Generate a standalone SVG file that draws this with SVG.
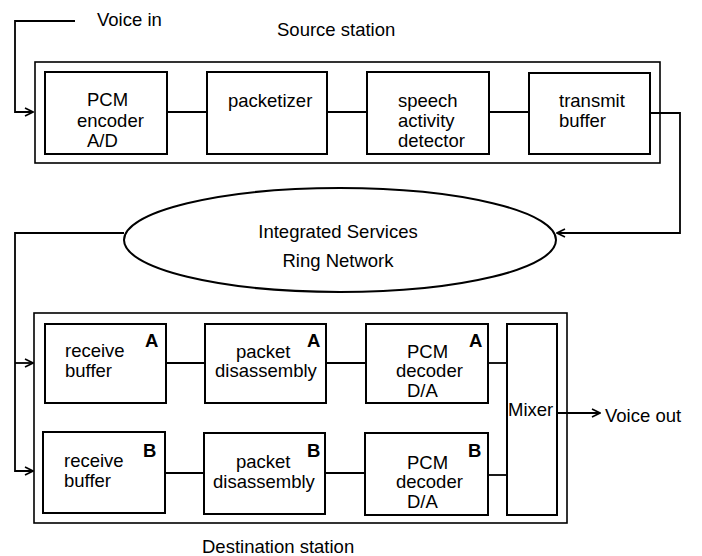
<svg xmlns="http://www.w3.org/2000/svg" width="702" height="556" viewBox="0 0 702 556">
<style>
  text { font-family: "Liberation Sans", Arial, sans-serif; font-size: 18.5px; fill: #000; }
  .lbl { font-weight: bold; }
  .frame { fill: none; stroke: #000; stroke-width: 1.6; }
  .box { fill: #fff; stroke: #000; stroke-width: 2; }
  .conn { fill: none; stroke: #000; stroke-width: 1.8; }
</style>
<defs>
  <marker id="arr" viewBox="0 0 10 10" refX="9" refY="5" markerWidth="10" markerHeight="10" markerUnits="userSpaceOnUse" orient="auto">
    <path d="M1,1 L9,5 L1,9" fill="none" stroke="#000" stroke-width="1.6"/>
  </marker>
</defs>
<rect width="702" height="556" fill="#fff"/>

<g id="source-station">
  <rect class="frame" x="35" y="62" width="625" height="101"/>
  <text x="277" y="36">Source station</text>
</g>
<g id="destination-station">
  <rect class="frame" x="34" y="313" width="533" height="210"/>
  <text x="202" y="553">Destination station</text>
</g>

<g id="connectors">
  <path class="conn" d="M75,21 H15 V112 H33" marker-end="url(#arr)"/>
  <path class="conn" d="M167,112 H207"/>
  <path class="conn" d="M327,112 H367"/>
  <path class="conn" d="M489,112 H529"/>
  <path class="conn" d="M650,113 H680 V233 H557" marker-end="url(#arr)"/>
  <path class="conn" d="M124,233 H15 V471 H33" marker-end="url(#arr)"/>
  <path class="conn" d="M15,363 H33" marker-end="url(#arr)"/>
  <path class="conn" d="M166,363 H205"/>
  <path class="conn" d="M326,363 H366"/>
  <path class="conn" d="M488,363 H507"/>
  <path class="conn" d="M165,473 H204"/>
  <path class="conn" d="M325,473 H365"/>
  <path class="conn" d="M488,475 H507"/>
  <path class="conn" d="M557,413 H600" marker-end="url(#arr)"/>
</g>

<g id="voice-in"><text x="97" y="26">Voice in</text></g>
<g id="voice-out"><text x="605" y="422">Voice out</text></g>

<g id="pcm-encoder">
  <rect class="box" x="45" y="72" width="122" height="82"/>
  <text x="87" y="106">PCM</text>
  <text x="77" y="127">encoder</text>
  <text x="87" y="147">A/D</text>
</g>
<g id="packetizer">
  <rect class="box" x="207" y="72" width="120" height="82"/>
  <text x="228" y="107">packetizer</text>
</g>
<g id="speech-activity-detector">
  <rect class="box" x="367" y="72" width="122" height="82"/>
  <text x="398" y="107">speech</text>
  <text x="398" y="127">activity</text>
  <text x="398" y="147">detector</text>
</g>
<g id="transmit-buffer">
  <rect class="box" x="529" y="73" width="121" height="81"/>
  <text x="559" y="107">transmit</text>
  <text x="559" y="127">buffer</text>
</g>

<g id="ring-network">
  <ellipse cx="340" cy="240" rx="216" ry="52" fill="#fff" stroke="#000" stroke-width="2"/>
  <text x="338" y="238" text-anchor="middle">Integrated Services</text>
  <text x="338" y="267" text-anchor="middle">Ring Network</text>
</g>

<g id="receive-buffer-a">
  <rect class="box" x="45" y="324" width="121" height="79"/>
  <text x="65" y="357">receive</text>
  <text x="65" y="377">buffer</text>
  <text class="lbl" x="145" y="347">A</text>
</g>
<g id="packet-disassembly-a">
  <rect class="box" x="205" y="324" width="121" height="79"/>
  <text x="236" y="358">packet</text>
  <text x="215" y="377">disassembly</text>
  <text class="lbl" x="307" y="347">A</text>
</g>
<g id="pcm-decoder-a">
  <rect class="box" x="366" y="324" width="122" height="79"/>
  <text x="407" y="358">PCM</text>
  <text x="396" y="377">decoder</text>
  <text x="407" y="397">D/A</text>
  <text class="lbl" x="469" y="347">A</text>
</g>

<g id="receive-buffer-b">
  <rect class="box" x="43" y="432" width="122" height="81"/>
  <text x="64" y="467">receive</text>
  <text x="64" y="487">buffer</text>
  <text class="lbl" x="143" y="457">B</text>
</g>
<g id="packet-disassembly-b">
  <rect class="box" x="204" y="433" width="121" height="81"/>
  <text x="236" y="468">packet</text>
  <text x="213" y="488">disassembly</text>
  <text class="lbl" x="307" y="457">B</text>
</g>
<g id="pcm-decoder-b">
  <rect class="box" x="365" y="433" width="123" height="82"/>
  <text x="407" y="469">PCM</text>
  <text x="396" y="488">decoder</text>
  <text x="407" y="508">D/A</text>
  <text class="lbl" x="468" y="457">B</text>
</g>

<g id="mixer">
  <rect class="box" x="507" y="324" width="50" height="191"/>
  <text x="508" y="416">Mixer</text>
</g>
</svg>
